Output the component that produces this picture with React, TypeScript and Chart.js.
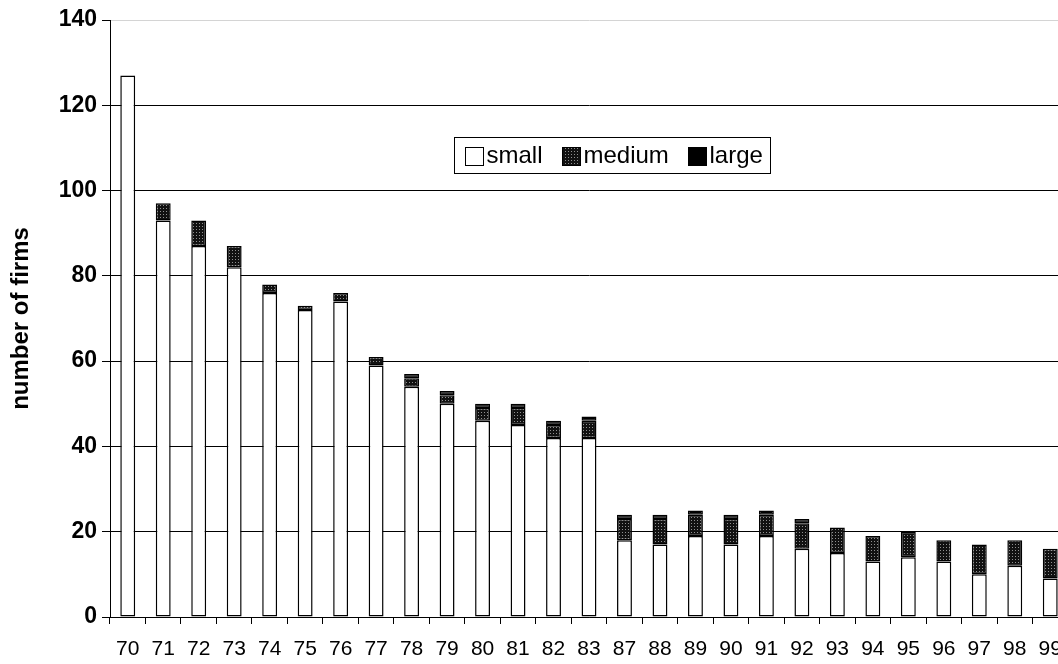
import { useEffect, useRef } from "react";
import { Chart, registerables } from "chart.js";

Chart.register(...registerables);

// Year of observation (two-digit)
const years = [
  "70", "71", "72", "73", "74", "75", "76", "77", "78", "79", "80", "81", "82", "83",
  "87", "88", "89", "90", "91", "92", "93", "94", "95", "96", "97", "98", "99",
];

// Number of firms by size class
const smallFirms = [127, 93, 87, 82, 76, 72, 74, 59, 54, 50, 46, 45, 42, 42, 18, 17, 19, 17, 19, 16, 15, 13, 14, 13, 10, 12, 9];
const mediumFirms = [0, 4, 6, 5, 2, 1, 2, 2, 2, 2, 3, 4, 3, 4, 5, 6, 5, 6, 5, 6, 6, 6, 6, 5, 7, 6, 7];
const largeFirms = [0, 0, 0, 0, 0, 0, 0, 0, 1, 1, 1, 1, 1, 1, 1, 1, 1, 1, 1, 1, 0, 0, 0, 0, 0, 0, 0];

const yTicks = [0, 20, 40, 60, 80, 100, 120, 140];

const FONT = "'Liberation Sans', Arial, sans-serif";

// Dark stipple fill used for the "medium" class
function makeStipple(): CanvasPattern | string {
  const tile = document.createElement("canvas");
  tile.width = 3;
  tile.height = 3;
  const t = tile.getContext("2d");
  if (!t) return "#222";
  t.fillStyle = "#111111";
  t.fillRect(0, 0, 3, 3);
  t.fillStyle = "#8f8f8f";
  t.fillRect(1, 1, 1, 1);
  const main = document.createElement("canvas").getContext("2d");
  return (main && main.createPattern(tile, "repeat")) || "#222";
}

// Boxed legend drawn inside the plot area
const boxedLegend = {
  id: "boxedLegend",
  afterDraw(chart: any) {
    const ctx: CanvasRenderingContext2D = chart.ctx;
    const cx = 612;
    const cy = 155;
    const sw = 18;
    const fontSize = 24;
    ctx.save();
    ctx.font = `${fontSize}px ${FONT}`;
    const items = chart.data.datasets.map((ds: any) => ({
      label: ds.label,
      fill: ds.backgroundColor,
      w: ctx.measureText(ds.label).width,
    }));
    const gapSwText = 3;
    const gapItems = 19;
    const padX = 10;
    let total = 0;
    items.forEach((it: any, i: number) => {
      total += sw + gapSwText + it.w + (i < items.length - 1 ? gapItems : 0);
    });
    const boxW = Math.round(total + padX * 2);
    const boxH = 36;
    const left = Math.round(cx - boxW / 2) + 0.5;
    const top = Math.round(cy - boxH / 2) + 0.5;
    ctx.fillStyle = "#ffffff";
    ctx.fillRect(left, top, boxW, boxH);
    ctx.strokeStyle = "#000";
    ctx.lineWidth = 1;
    ctx.strokeRect(left, top, boxW, boxH);
    let x = Math.round(left + padX) + 0.5;
    items.forEach((it: any) => {
      const sy = Math.round(cy - sw / 2 + 1) + 0.5;
      ctx.fillStyle = it.fill;
      ctx.fillRect(x, sy, sw, sw);
      ctx.strokeStyle = "#000";
      ctx.strokeRect(x, sy, sw, sw);
      x += sw + gapSwText;
      ctx.fillStyle = "#000";
      ctx.textBaseline = "middle";
      ctx.textAlign = "left";
      ctx.fillText(it.label, x, cy + 1);
      x = Math.round(x + it.w + gapItems) + 0.5;
    });
    ctx.restore();
  },
};

export default function App() {
  const canvasRef = useRef<HTMLCanvasElement | null>(null);

  useEffect(() => {
    const canvas = canvasRef.current;
    if (!canvas) return;
    const stipple = makeStipple();
    const edge = (ctx: any) => (ctx.raw ? 1.5 : 0);

    const chart = new Chart(canvas, {
      type: "bar",
      data: {
        labels: years,
        datasets: [
          {
            label: "small",
            data: smallFirms,
            backgroundColor: "#ffffff",
            borderColor: "#000",
            borderWidth: edge,
            borderSkipped: false,
          },
          {
            label: "medium",
            data: mediumFirms,
            backgroundColor: stipple as any,
            borderColor: "#000",
            borderWidth: edge,
            borderSkipped: false,
          },
          {
            label: "large",
            data: largeFirms,
            backgroundColor: "#000000",
            borderColor: "#000000",
            borderWidth: edge,
            borderSkipped: false,
          },
        ],
      },
      options: {
        responsive: false,
        animation: false,
        devicePixelRatio: 1,
        layout: { padding: { left: 0, right: 12, top: 20, bottom: 0 } },
        datasets: {
          bar: { categoryPercentage: 1, barPercentage: 0.42 },
        },
        plugins: {
          legend: { display: false },
          tooltip: { enabled: false },
        },
        scales: {
          x: {
            stacked: true,
            offset: true,
            grid: {
              offset: true,
              drawOnChartArea: false,
              drawTicks: true,
              tickLength: 7,
              color: "#000",
            },
            border: { display: true, color: "#000", width: 1 },
            ticks: {
              color: "#000",
              padding: 13,
              autoSkip: false,
              maxRotation: 0,
              font: { family: FONT, size: 21 },
            },
            afterFit(scale: any) {
              scale.height = 47;
            },
          },
          y: {
            stacked: true,
            min: 0,
            max: 140,
            afterBuildTicks(scale: any) {
              scale.ticks = yTicks.map((v) => ({ value: v }));
            },
            grid: {
              color: (c: any) => (c.tick && c.tick.value === 140 ? "#d4d4d4" : "#000"),
              tickColor: "#000",
              tickLength: 8,
              drawTicks: true,
            },
            border: { display: true, color: "#000", width: 1 },
            ticks: {
              color: "#000",
              padding: 5,
              font: { family: FONT, size: 23, weight: "bold" },
            },
            title: {
              display: true,
              text: "number of firms",
              color: "#000",
              padding: { top: 7, bottom: 0 },
              font: { family: FONT, size: 24, weight: "bold" },
            },
            afterFit(scale: any) {
              scale.width = 110;
            },
          },
        },
      },
      plugins: [boxedLegend],
    });

    return () => chart.destroy();
  }, []);

  return (
    <div
      style={{
        position: "fixed",
        left: 0,
        top: 0,
        width: 1058,
        height: 664,
        overflow: "hidden",
        background: "#fff",
      }}
    >
      <canvas ref={canvasRef} width={1080} height={664} style={{ display: "block" }} />
    </div>
  );
}
